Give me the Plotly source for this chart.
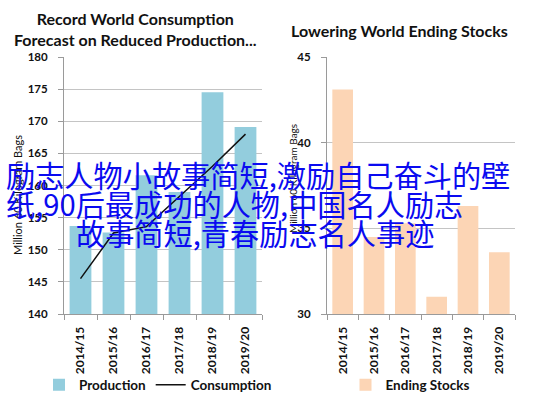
import plotly.graph_objects as go

W, H = 537, 399

seasons = ["2014/15", "2015/16", "2016/17", "2017/18", "2018/19", "2019/20"]
production = [153.7, 152.7, 161.6, 159.0, 174.5, 169.1]
consumption = [145.5, 152.6, 153.6, 158.3, 163.0, 168.0]
ending_stocks = [43.1, 34.5, 35.3, 31.0, 36.3, 33.6]

left_title = "Record World Consumption<br>Forecast on Reduced Production..."
right_title = "Lowering World Ending Stocks"
y_title = "Million 60 Kilogram Bags"
overlay_lines = [
    "励志人物小故事简短,激励自己奋斗的壁",
    "纸,90后最成功的人物,中国名人励志",
    "故事简短,青春励志名人事迹",
]

FONT = "Lato, 'Open Sans', 'Liberation Sans', sans-serif"
CJK = "'Noto Sans CJK SC', 'Noto Sans', sans-serif"
GRID = "#c4c4c4"
AXIS = "#9a9a9a"
TXT = "#111111"


def px_x(v):
    return v / W


def px_y(v):
    return 1 - v / H


fig = go.Figure()
fig.add_trace(go.Bar(x=seasons, y=production, name="Production",
                     marker=dict(color="#93CDDD", line=dict(width=0)),
                     xaxis="x", yaxis="y", legend="legend"))
fig.add_trace(go.Scatter(x=seasons, y=consumption, name="Consumption", mode="lines",
                         line=dict(color="#111111", width=1.5),
                         xaxis="x", yaxis="y", legend="legend"))
fig.add_trace(go.Bar(x=seasons, y=ending_stocks, name="Ending Stocks",
                     marker=dict(color="#FCD5B5", line=dict(width=0)),
                     xaxis="x2", yaxis="y2", legend="legend2"))

ydom = [px_y(314), px_y(57)]
ytickfont = dict(family=FONT, size=11.5, color=TXT, weight="bold")
xtickfont = dict(family=FONT, size=12, color=TXT, weight="bold")
xcommon = dict(type="category", tickangle=-90, ticks="outside", ticklen=5,
               tickcolor=AXIS, tickson="boundaries", showline=True, linecolor=AXIS,
               linewidth=1, tickfont=xtickfont, showgrid=False, fixedrange=True,
               ticklabelstandoff=7, automargin=False)
ycommon = dict(ticks="outside", ticklen=5, tickcolor=AXIS, showline=True, linecolor=AXIS,
               linewidth=1, gridcolor=GRID, gridwidth=1, tickfont=ytickfont, zeroline=False,
               domain=ydom, fixedrange=True, ticklabelstandoff=8, automargin=False)

legfont = dict(family=FONT, size=13.5, color=TXT, weight="bold")
fig.update_layout(
    width=W, height=H,
    margin=dict(l=0, r=0, t=0, b=0, pad=0, autoexpand=False),
    paper_bgcolor="white", plot_bgcolor="white",
    bargap=0.34,
    xaxis=dict(domain=[px_x(64), px_x(262)], anchor="y", **xcommon),
    yaxis=dict(range=[140, 180], dtick=5, anchor="x", **ycommon),
    xaxis2=dict(domain=[px_x(327), px_x(515)], anchor="y2", **xcommon),
    yaxis2=dict(range=[30, 45], dtick=5, anchor="x2", **ycommon),
    legend=dict(orientation="h", x=px_x(158), y=px_y(385), xanchor="center", yanchor="middle",
                font=legfont, itemwidth=30, bgcolor="rgba(0,0,0,0)"),
    legend2=dict(orientation="h", x=px_x(410), y=px_y(385), xanchor="center", yanchor="middle",
                 font=legfont, itemwidth=30, bgcolor="rgba(0,0,0,0)"),
    showlegend=True,
)

annotations = [
    dict(text=left_title, x=px_x(135), y=px_y(29), xref="paper", yref="paper",
         xanchor="center", yanchor="middle", showarrow=False, align="center",
         font=dict(family=FONT, size=16, color=TXT, weight="bold")),
    dict(text=right_title, x=px_x(399), y=px_y(30), xref="paper", yref="paper",
         xanchor="center", yanchor="middle", showarrow=False,
         font=dict(family=FONT, size=16, color=TXT, weight="bold")),
    dict(text=y_title, x=px_x(17), y=px_y(195), xref="paper", yref="paper",
         xanchor="center", yanchor="middle", showarrow=False, textangle=-90,
         font=dict(family=FONT, size=11, color=TXT)),
    dict(text=y_title, x=px_x(293), y=px_y(179), xref="paper", yref="paper",
         xanchor="center", yanchor="middle", showarrow=False, textangle=-90,
         font=dict(family=FONT, size=10, color=TXT)),
]
overlay_pos = [(5, 174), (5, 203), (75, 232)]
for txt, (ox, oy) in zip(overlay_lines, overlay_pos):
    annotations.append(dict(text=txt, x=px_x(ox), y=px_y(oy), xref="paper", yref="paper",
                            xanchor="left", yanchor="middle", showarrow=False,
                            borderpad=0, font=dict(family=CJK, size=29.2, color="#0a0af0")))
fig.update_layout(annotations=annotations)

fig.write_html("out.html", config={"displayModeBar": False},
               post_script="document.body.style.margin='0';")
